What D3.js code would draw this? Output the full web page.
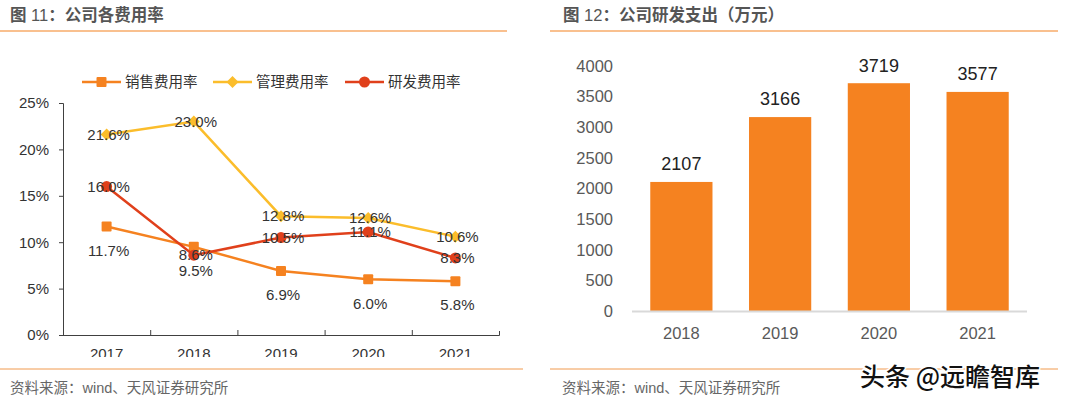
<!DOCTYPE html>
<html><head><meta charset="utf-8">
<script src="https://cdn.jsdelivr.net/npm/d3@7"></script>
<style>
html,body{margin:0;padding:0;background:#fff;}
svg{display:block;font-family:"Liberation Sans","Noto Sans CJK SC",sans-serif;}
</style></head>
<body>
<svg id="c" width="1080" height="405"></svg>
<script>
// ---- data ----
const years1 = ["2017","2018","2019","2020","2021"];
const salesRate = [11.7, 9.5, 6.9, 6.0, 5.8];
const adminRate = [21.6, 23.0, 12.8, 12.6, 10.6];
const rdRate = [16.0, 8.6, 10.5, 11.1, 8.3];
const seriesNames = ["销售费用率","管理费用率","研发费用率"];
const yTicks1 = [0,5,10,15,20,25];

const years2 = ["2018","2019","2020","2021"];
const rdSpend = [2107, 3166, 3719, 3577];
const yTicks2 = [0,500,1000,1500,2000,2500,3000,3500,4000];

const title1 = ["图 ","11","：公司各费用率"];
const title2 = ["图 ","12","：公司研发支出（万元）"];
const sourceText = "资料来源：wind、天风证券研究所";
const watermark = "头条 @远瞻智库";

const svg = d3.select("#c");
const cOrange = "#f58220", cYellow = "#fbbd2b", cRed = "#e0401b";

// ---- frames ----
function frame(x0, x1, bx1, tx, t, sx) {
  svg.append("line").attr("x1",x0).attr("x2",x1).attr("y1",31).attr("y2",31)
    .attr("stroke","#f9c08f").attr("stroke-width",2);
  svg.append("line").attr("x1",x0).attr("x2",bx1).attr("y1",369).attr("y2",369)
    .attr("stroke","#f19a4e").attr("stroke-width",1);
  const tt = svg.append("text").attr("x",tx).attr("y",21).attr("font-size",16.5)
    .attr("fill","#555");
  tt.append("tspan").attr("font-weight","bold").text(t[0]);
  tt.append("tspan").text(t[1]);
  tt.append("tspan").attr("font-weight","bold").text(t[2]);
  svg.append("text").attr("x",sx).attr("y",393).attr("font-size",14.5)
    .attr("fill","#666").text(sourceText);
}
frame(0, 507, 523, 10, title1, 10);
frame(550, 1058, 1058, 563, title2, 562);

// ---- left chart ----
const x1 = d3.scaleBand().domain(years1).range([63, 499]);
const y1 = d3.scaleLinear().domain([0,25]).range([335, 103]);

const gY = svg.append("g").attr("transform","translate(63,0)")
  .call(d3.axisLeft(y1).tickValues(yTicks1).tickSize(4).tickFormat(d=>d+"%"));
gY.select(".domain").attr("stroke","#404040").attr("d","M-4,103.5H0.5V335.5");
gY.selectAll(".tick line").attr("stroke","#404040");
gY.selectAll(".tick text").attr("font-size",15).attr("fill","#333")
  .attr("font-family","Liberation Sans").attr("x",-14);

svg.append("defs").append("clipPath").attr("id","clipx")
  .append("rect").attr("x",0).attr("y",-10).attr("width",540).attr("height",32);
const gX = svg.append("g").attr("transform","translate(0,335)")
  .attr("clip-path","url(#clipx)")
  .call(d3.axisBottom(x1).tickSize(0).tickPadding(0));
gX.select(".domain").attr("stroke","#404040").attr("d","M63,0.5H499.5V-4");
gX.selectAll(".tick text").attr("font-size",15).attr("fill","#333")
  .attr("font-family","Liberation Sans").attr("dy",0).attr("y",24);
// category boundary ticks pointing up
const bounds = years1.slice(1).map(d => x1(d));
gX.selectAll(".btick").data(bounds).join("line").attr("class","btick")
  .attr("x1",d=>d+0.5).attr("x2",d=>d+0.5).attr("y1",0).attr("y2",-5)
  .attr("stroke","#404040");

const cx = d => x1(d) + x1.bandwidth()/2;
const line = d3.line().x((d,i)=>cx(years1[i])).y(d=>y1(d));
const series = [
  {name:seriesNames[0], vals:salesRate, color:cOrange, marker:"square", labelDy:24},
  {name:seriesNames[1], vals:adminRate, color:cYellow, marker:"diamond", labelDy:0},
  {name:seriesNames[2], vals:rdRate, color:cRed, marker:"circle", labelDy:0}
];
function drawMarker(g, type, color) {
  if (type === "square") g.append("rect").attr("x",-5).attr("y",-5).attr("width",10).attr("height",10)
    .attr("rx",1).attr("fill",color);
  else if (type === "diamond") g.append("path").attr("d","M0,-6L6,0L0,6L-6,0Z").attr("fill",color);
  else g.append("circle").attr("r",5.5).attr("fill",color);
}
series.forEach(s => {
  svg.append("path").attr("d", line(s.vals)).attr("fill","none")
    .attr("stroke", s.color).attr("stroke-width",2.5);
  s.vals.forEach((v,i) => {
    const g = svg.append("g").attr("transform",`translate(${cx(years1[i])},${y1(v)})`);
    drawMarker(g, s.marker, s.color);
  });
});
series.forEach(s => {
  s.vals.forEach((v,i) => {
    svg.append("text").attr("x", cx(years1[i]) + 2).attr("y", y1(v) + s.labelDy)
      .attr("dy","0.35em").attr("text-anchor","middle").attr("font-size",15)
      .attr("fill","#333").text(v.toFixed(1)+"%");
  });
});
// legend
const legX = [82, 213, 345];
series.forEach((s,i) => {
  const g = svg.append("g").attr("transform",`translate(${legX[i]},82)`);
  g.append("line").attr("x1",0).attr("x2",39).attr("stroke",s.color).attr("stroke-width",2.5);
  const m = g.append("g").attr("transform","translate(19.5,0)");
  drawMarker(m, s.marker, s.color);
  g.append("text").attr("x",43).attr("dy","0.35em").attr("font-size",14.5)
    .attr("fill","#333").text(s.name);
});

// ---- right chart ----
const x2 = d3.scaleBand().domain(years2).range([632, 1027]).paddingInner(0.37).paddingOuter(0.185);
const y2 = d3.scaleLinear().domain([0,4000]).range([311, 66]);

const gY2 = svg.append("g").attr("transform","translate(613,0)")
  .call(d3.axisLeft(y2).tickValues(yTicks2).tickSize(0).tickPadding(0).tickFormat(d3.format("d")));
gY2.select(".domain").remove();
gY2.selectAll(".tick text").attr("font-size",16.5).attr("fill","#595959")
  .attr("font-family","Liberation Sans");

svg.selectAll(".bar").data(rdSpend).join("rect").attr("class","bar")
  .attr("x",(d,i)=>x2(years2[i])).attr("width",x2.bandwidth())
  .attr("y",d=>y2(d)).attr("height",d=>y2(0)-y2(d)).attr("fill",cOrange);

svg.append("line").attr("x1",632).attr("x2",1027).attr("y1",311.5).attr("y2",311.5)
  .attr("stroke","#d9d9d9").attr("stroke-width",2);

const gX2 = svg.append("g").attr("transform","translate(0,311)")
  .call(d3.axisBottom(x2).tickSize(0).tickPadding(0));
gX2.select(".domain").remove();
gX2.selectAll(".tick text").attr("font-size",16.5).attr("fill","#595959")
  .attr("font-family","Liberation Sans").attr("dy",0).attr("y",28);

svg.selectAll(".vlab").data(rdSpend).join("text").attr("class","vlab")
  .attr("x",(d,i)=>x2(years2[i]) + x2.bandwidth()/2).attr("y",d=>y2(d)-18)
  .attr("dy","0.35em").attr("text-anchor","middle").attr("font-size",18)
  .attr("fill","#222").text(d=>d);

// watermark
svg.append("text").attr("x",860).attr("y",386).attr("font-size",25)
  .attr("font-family","Noto Sans CJK SC").attr("font-weight",500).attr("fill","#111")
  .attr("stroke","#fff").attr("stroke-width",3).attr("paint-order","stroke")
  .text(watermark);
</script>
</body></html>
